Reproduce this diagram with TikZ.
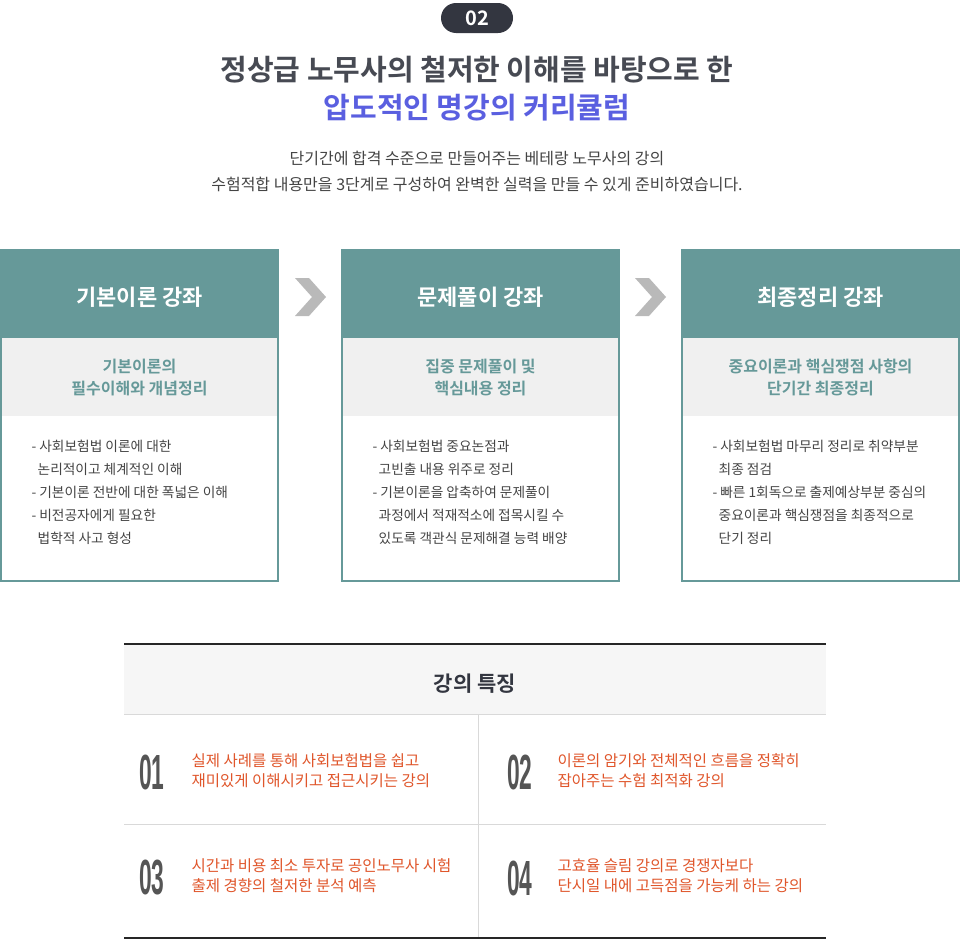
\documentclass[tikz,border=0pt]{standalone}
\usepackage{fontspec}
\setmainfont{Noto Sans CJK KR}
\newfontfamily\kb{Noto Sans CJK KR Bold}
\newfontfamily\numf{Liberation Sans}
\definecolor{teal1}{HTML}{669999}
\definecolor{dark1}{HTML}{333640}
\definecolor{blue1}{HTML}{5A5FE0}
\definecolor{txt1}{HTML}{444444}
\definecolor{band}{HTML}{F0F0F0}
\definecolor{org}{HTML}{E0562B}
\definecolor{num}{HTML}{555555}
\begin{document}
\begin{tikzpicture}[x=1pt,y=-1pt,
  hdr/.style={font=\kb\fontsize{22}{26}\selectfont,text=white},
  sub/.style={font=\kb\fontsize{16}{22}\selectfont,text=teal1,align=center},
  body/.style={font=\fontsize{13.7}{23}\selectfont,text=txt1,align=left,anchor=north west},
  feat/.style={font=\fontsize{15.5}{20}\selectfont,text=org,align=left,anchor=west},
  fnum/.style={font=\numf\bfseries\fontsize{38}{38}\selectfont,text=num,anchor=west,xscale=0.6,yscale=1.3}]
\useasboundingbox (0,0) rectangle (960,940);
\fill[white] (0,0) rectangle (960,940);
% badge
\fill[dark1,rounded corners=15pt] (441,3) rectangle (513,33);
\node[font=\kb\fontsize{20}{20}\selectfont,text=white] (badge) at (477,18) {02};
\node[font=\kb\fontsize{29}{30}\selectfont,text=dark1!90] (t1) at (477,70) {정상급 노무사의 철저한 이해를 바탕으로 한};
\node[font=\kb\fontsize{29}{30}\selectfont,text=blue1] (t2) at (477,108) {압도적인 명강의 커리큘럼};
\node[font=\fontsize{16}{26}\selectfont,text=txt1,align=center] (t3) at (477,171) {단기간에 합격 수준으로 만들어주는 베테랑 노무사의 강의\\수험적합 내용만을 3단계로 구성하여 완벽한 실력을 만들 수 있게 준비하였습니다.};
% cards
\foreach \x/\h/\s/\b [count=\i] in {
 0/기본이론 강좌/{기본이론의\\필수이해와 개념정리}/{- 사회보험법 이론에 대한\\\ \ 논리적이고 체계적인 이해\\- 기본이론 전반에 대한 폭넓은 이해\\- 비전공자에게 필요한\\\ \ 법학적 사고 형성},
 341/문제풀이 강좌/{집중 문제풀이 및\\핵심내용 정리}/{- 사회보험법 중요논점과\\\ \ 고빈출 내용 위주로 정리\\- 기본이론을 압축하여 문제풀이\\\ \ 과정에서 적재적소에 접목시킬 수\\\ \ 있도록 객관식 문제해결 능력 배양},
 681/최종정리 강좌/{중요이론과 핵심쟁점 사항의\\단기간 최종정리}/{- 사회보험법 마무리 정리로 취약부분\\\ \ 최종 점검\\- 빠른 1회독으로 출제예상부분 중심의\\\ \ 중요이론과 핵심쟁점을 최종적으로\\\ \ 단기 정리}} {
  \fill[teal1] (\x,249) rectangle ++(279,88);
  \fill[band] (\x,337) rectangle ++(279,79);
  \draw[teal1,line width=2pt] (\x+1,337) rectangle (\x+278,581);
  \node[hdr] (h\i) at (\x+139.5,297) {\h};
  \node[sub] (s\i) at (\x+139.5,377) {\s};
  \node[body] (b\i) at (\x+28,437) {\b};
}
% chevrons
\foreach \x [count=\i] in {295,635} {
  \fill[gray!55] (\x,278) -- (\x+14,278) -- (\x+31,297) -- (\x+14,316) -- (\x,316) -- (\x+17,297) -- cycle;
  \coordinate (ch\i) at (\x,297);
}
% table
\fill[gray!7] (124,645) rectangle (826,714);
\draw[black!85,line width=2.5pt] (124,644) -- (826,644);
\draw[black!85,line width=2.5pt] (124,938) -- (826,938);
\draw[gray!30,line width=1pt] (124,714) -- (826,714);
\draw[gray!30,line width=1pt] (124,824) -- (826,824);
\draw[gray!30,line width=1pt] (478,714) -- (478,937);
\node[font=\kb\fontsize{21}{24}\selectfont,text=dark1] (ft) at (475,684) {강의 특징};
\node[fnum] (n1) at (137,772) {01};
\node[feat] (f1) at (188,771) {실제 사례를 통해 사회보험법을 쉽고\\재미있게 이해시키고 접근시키는 강의};
\node[fnum] (n2) at (505,772) {02};
\node[feat] (f2) at (554,771) {이론의 암기와 전체적인 흐름을 정확히\\잡아주는 수험 최적화 강의};
\node[fnum] (n3) at (137,878) {03};
\node[feat] (f3) at (188,876) {시간과 비용 최소 투자로 공인노무사 시험\\출제 경향의 철저한 분석 예측};
\node[fnum] (n4) at (505,878) {04};
\node[feat] (f4) at (554,876) {고효율 슬림 강의로 경쟁자보다\\단시일 내에 고득점을 가능케 하는 강의};
\end{tikzpicture}
\end{document}
